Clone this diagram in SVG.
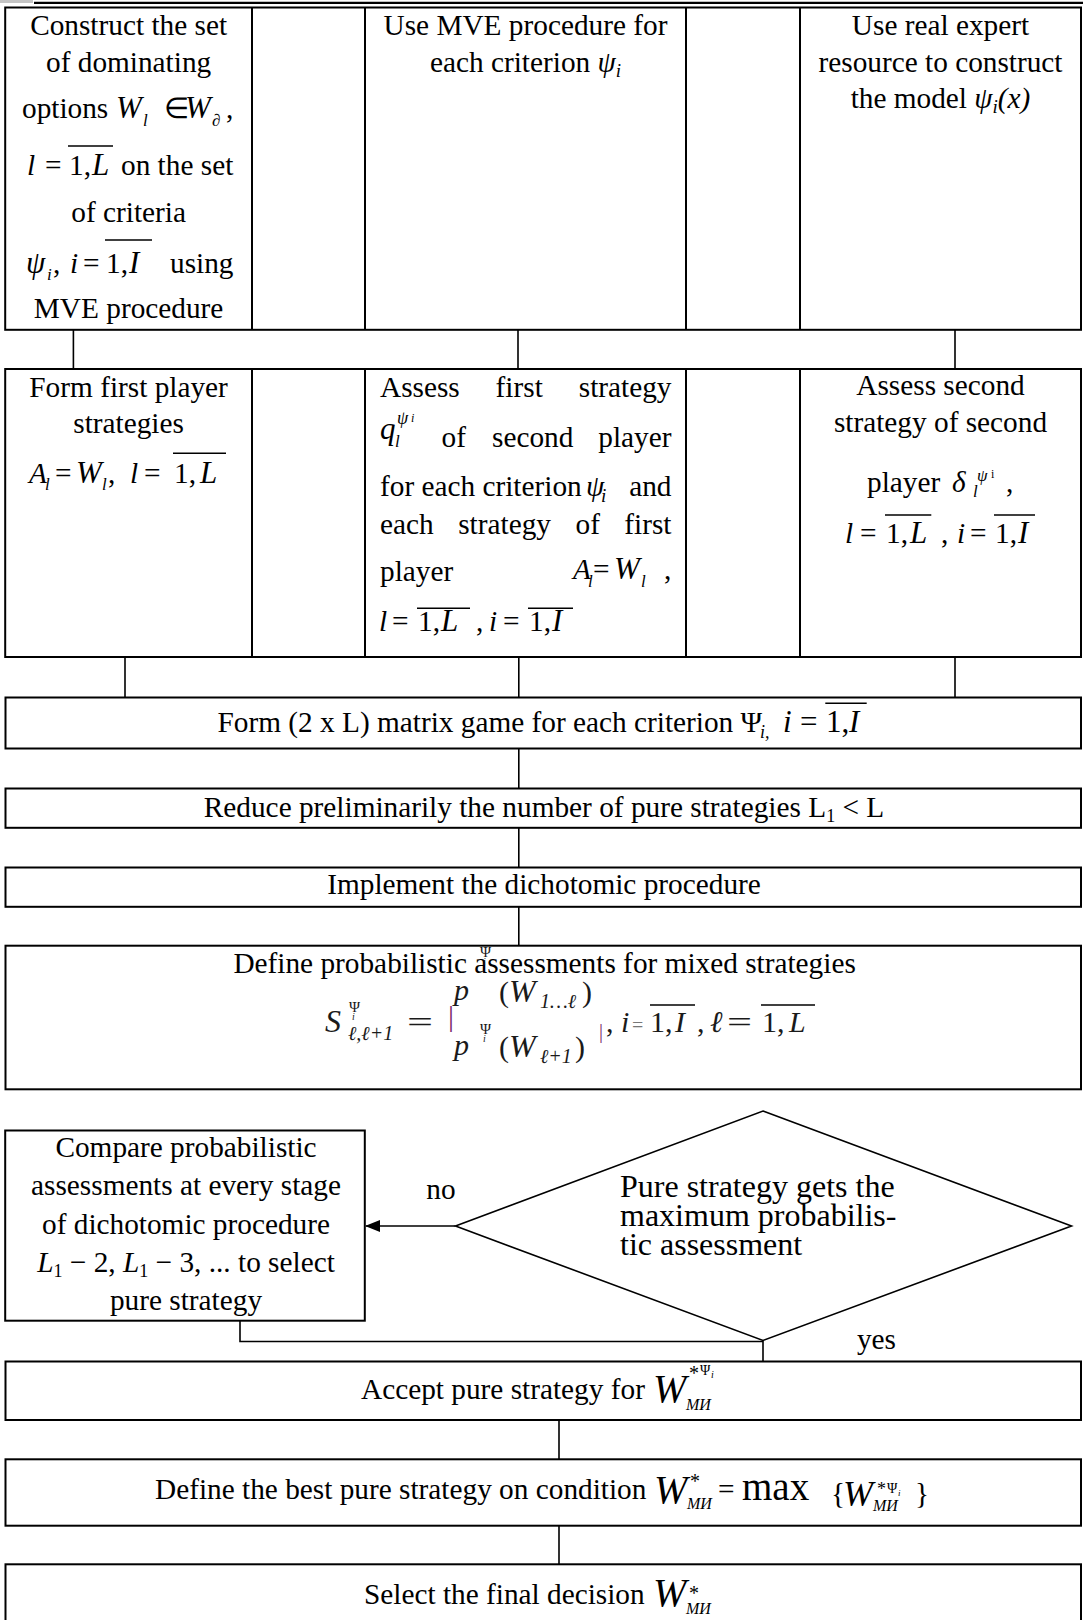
<svg xmlns="http://www.w3.org/2000/svg" width="1083" height="1620" viewBox="0 0 1083 1620">
<style>
svg{font-family:"Liberation Serif","Times New Roman",serif;font-size:29.3px}
text{fill:#000}
.i{font-style:italic}
.c{text-anchor:middle}
.e{text-anchor:end}
.box{fill:#fff;stroke:#000;stroke-width:2}
.ln{fill:none;stroke:#000;stroke-width:2}
.cn{fill:none;stroke:#000;stroke-width:1.6}
.ov{stroke:#000;stroke-width:1.5}
text.fm{fill:#1a1a1a}
text.bar{fill:#7a2a6a}
text.gr{fill:#777}
</style>
<defs>
<marker id="ah" markerUnits="userSpaceOnUse" markerWidth="15" markerHeight="12" refX="14" refY="6" orient="auto">
<path d="M0,0 L15,6 L0,12 z" fill="#000"/>
</marker>
</defs>
<rect width="1083" height="1620" fill="#fff"/>
<rect x="0" y="0" width="33" height="3" fill="#c4c4c4"/>
<line x1="34" y1="2.8" x2="1083" y2="2.8" stroke="#000" stroke-width="2.3"/>

<g id="connectors">
<path class="cn" d="M73.4,330 V369 M518,330 V369 M955,330 V369"/>
<path class="cn" d="M125,657 V697.5 M518.8,657 V697.5 M955,657 V697.5"/>
<path class="cn" d="M518.8,748.5 V788.5 M518.8,827.8 V867.5 M518.8,906.8 V945.7"/>
<path class="cn" d="M455.5,1226 H366" marker-end="url(#ah)"/>
<path class="cn" d="M240,1320.7 V1341.5 H763 M763,1340.5 V1361.5"/>
<path class="cn" d="M559,1420 V1459.3 M559,1525.7 V1564.3"/>
</g>

<g id="table-row1">
<rect class="box" x="5.2" y="7.5" width="1075.8" height="322.3"/>
<path class="ln" d="M252,7.5 V329.8 M365,7.5 V329.8 M686,7.5 V329.8 M800,7.5 V329.8"/>
</g>
<g id="n-construct">
<text class="c" x="128.6" y="35">Construct the set</text>
<text class="c" x="128.6" y="71.7">of dominating</text>
<text x="22" y="118">options</text>
<text class="i" x="116" y="118" font-size="31">W</text>
<text class="i" x="143" y="126" font-size="17">l</text>
<text x="164" y="118">∈</text>
<text class="i" x="185" y="118" font-size="31">W</text>
<text class="i" x="212" y="126" font-size="17">∂</text>
<text x="226" y="118">,</text>
<text class="i" x="27" y="175">l</text>
<text x="45" y="175">=</text>
<text x="69" y="175">1,</text>
<text class="i" x="92" y="175" font-size="31">L</text>
<line class="ov" x1="68" y1="146" x2="113" y2="146"/>
<text x="121" y="175">on the set</text>
<text class="c" x="128.6" y="221.7">of criteria</text>
<text class="i" x="26" y="273" font-size="31">ψ</text>
<text class="i" x="47" y="280" font-size="17">i</text>
<text x="53" y="273">,</text>
<text class="i" x="70" y="273">i</text>
<text x="83" y="273">=</text>
<text x="106" y="273">1,</text>
<text class="i" x="129" y="273" font-size="31">I</text>
<line class="ov" x1="105" y1="240" x2="152" y2="240"/>
<text x="170" y="273">using</text>
<text class="c" x="128.6" y="318.3">MVE procedure</text>
</g>
<g id="n-mve">
<text class="c" x="525.5" y="35">Use MVE procedure for</text>
<text class="c" x="525.5" y="71.7">each criterion <tspan class="i">ψ</tspan><tspan class="i" font-size="19" dy="5">i</tspan></text>
</g>
<g id="n-expert">
<text class="c" x="940.5" y="35">Use real expert</text>
<text class="c" x="940.5" y="71.7">resource to construct</text>
<text class="c" x="940.5" y="108.3">the model <tspan class="i">ψ</tspan><tspan class="i" font-size="19" dy="5">i</tspan><tspan class="i" dy="-5">(x)</tspan></text>
</g>

<g id="table-row2">
<rect class="box" x="5.2" y="369" width="1075.8" height="288"/>
<path class="ln" d="M252,369 V657 M365,369 V657 M686,369 V657 M800,369 V657"/>
</g>
<g id="n-form-first">
<text class="c" x="128.6" y="396.7">Form first player</text>
<text class="c" x="128.6" y="433.3">strategies</text>
<text class="i" x="29" y="483.3">A</text>
<text class="i" x="45" y="490" font-size="17">l</text>
<text x="55" y="483.3">=</text>
<text class="i" x="76" y="483.3" font-size="31">W</text>
<text class="i" x="102" y="490" font-size="17">l</text>
<text x="108" y="483.3">,</text>
<text class="i" x="130" y="483.3">l</text>
<text x="144" y="483.3">=</text>
<text x="174" y="483.3">1,</text>
<text class="i" x="200" y="483.3" font-size="31">L</text>
<line class="ov" x1="173" y1="453.3" x2="226" y2="453.3"/>
</g>
<g id="n-assess-first">
<text x="380" y="396.7">Assess</text>
<text x="495.6" y="396.7">first</text>
<text class="e" x="671.5" y="396.7">strategy</text>
<text class="i" x="380" y="439" font-size="31">q</text>
<text class="i" x="397" y="424" font-size="18">ψ</text>
<text class="i" x="411" y="422" font-size="12">i</text>
<text class="i" x="395" y="447" font-size="17">l</text>
<text x="441.5" y="446.7">of</text>
<text x="492" y="446.7">second</text>
<text class="e" x="671.5" y="446.7">player</text>
<text x="380" y="496">for each criterion</text>
<text class="i" x="586" y="496">ψ</text>
<text class="i" x="601" y="502" font-size="19">i</text>
<text class="e" x="671.5" y="496">and</text>
<text x="380" y="534">each</text>
<text x="458.2" y="534">strategy</text>
<text x="575.5" y="534">of</text>
<text class="e" x="671.5" y="534">first</text>
<text x="380" y="580.5">player</text>
<text class="i" x="573" y="579">A</text>
<text class="i" x="588" y="587" font-size="17">l</text>
<text x="593" y="579">=</text>
<text class="i" x="614" y="579" font-size="31">W</text>
<text class="i" x="641" y="587" font-size="17">l</text>
<text x="664" y="579">,</text>
<text class="i" x="379" y="631">l</text>
<text x="392" y="631">=</text>
<text x="418" y="631">1,</text>
<text class="i" x="441" y="631" font-size="31">L</text>
<line class="ov" x1="417" y1="608.3" x2="470" y2="608.3"/>
<text x="476" y="631">,</text>
<text class="i" x="489" y="631">i</text>
<text x="503" y="631">=</text>
<text x="529" y="631">1,</text>
<text class="i" x="552" y="631" font-size="31">I</text>
<line class="ov" x1="528" y1="608.3" x2="573" y2="608.3"/>
</g>
<g id="n-assess-second">
<text class="c" x="940.5" y="395">Assess second</text>
<text class="c" x="940.5" y="431.7">strategy of second</text>
<text x="867" y="491.7">player</text>
<text class="i" x="952" y="491.7">δ</text>
<text class="i" x="977" y="481" font-size="17">ψ</text>
<text x="991" y="478" font-size="12">i</text>
<text class="i" x="973" y="497" font-size="17">l</text>
<text x="1006" y="491.7">,</text>
<text class="i" x="845" y="543.3">l</text>
<text x="860" y="543.3">=</text>
<text x="886" y="543.3">1,</text>
<text class="i" x="910" y="543.3" font-size="31">L</text>
<line class="ov" x1="885" y1="515" x2="931.3" y2="515"/>
<text x="941" y="543.3">,</text>
<text class="i" x="957" y="543.3">i</text>
<text x="970" y="543.3">=</text>
<text x="995" y="543.3">1,</text>
<text class="i" x="1018" y="543.3" font-size="31">I</text>
<line class="ov" x1="994" y1="515" x2="1035" y2="515"/>
</g>

<g id="n-matrix-game">
<rect class="box" x="5.5" y="697.5" width="1075.5" height="51"/>
<text x="217.5" y="731.7">Form (2 x L) matrix game for each criterion Ψ</text>
<text class="i" x="760" y="738" font-size="18">i,</text>
<text class="i" x="783" y="731.7" font-size="31">i</text>
<text x="800" y="731.7" font-size="31">=</text>
<text x="826" y="731.7" font-size="31">1,</text>
<text class="i" x="849" y="731.7" font-size="31">I</text>
<line class="ov" x1="825.3" y1="703.3" x2="866.7" y2="703.3"/>
</g>
<g id="n-reduce">
<rect class="box" x="5.5" y="788.5" width="1075.5" height="39.3"/>
<text class="c" x="544" y="816.5">Reduce preliminarily the number of pure strategies L<tspan font-size="18" dy="5">1</tspan><tspan dy="-5"> &lt; L</tspan></text>
</g>
<g id="n-dichotomic">
<rect class="box" x="5.5" y="867.5" width="1075.5" height="39.3"/>
<text class="c" x="544" y="894">Implement the dichotomic procedure</text>
</g>
<g id="n-define-mixed">
<rect class="box" x="5.5" y="945.7" width="1075.5" height="143.6"/>
<text class="c" x="544.6" y="973.3">Define probabilistic assessments for mixed strategies</text>
<text class="i fm" x="325" y="1031.5" font-size="32">S</text>
<text class="fm" x="349" y="1012" font-size="15">Ψ</text>
<text class="i fm" x="352" y="1020" font-size="10">i</text>
<text class="i fm" x="348" y="1040" font-size="20">ℓ,ℓ+1</text>
<text class="fm" x="407" y="1031.5" font-size="30" textLength="26" lengthAdjust="spacingAndGlyphs">=</text>
<text class="bar" x="448" y="1026" font-size="30">|</text>
<text class="i fm" x="454" y="1000" font-size="30">p</text>
<text class="fm" x="480" y="957" font-size="15">Ψ</text>
<text class="i fm" x="483" y="965" font-size="10">i</text>
<text class="fm" x="499" y="1002" font-size="30">(</text>
<text class="i fm" x="509" y="1002" font-size="32">W</text>
<text class="i fm" x="540" y="1008" font-size="20">1…ℓ</text>
<text class="fm" x="582" y="1002" font-size="30">)</text>
<text class="i fm" x="454" y="1055" font-size="30">p</text>
<text class="fm" x="480" y="1034" font-size="15">Ψ</text>
<text class="i fm" x="483" y="1042" font-size="10">i</text>
<text class="fm" x="499" y="1057" font-size="30">(</text>
<text class="i fm" x="509" y="1057" font-size="32">W</text>
<text class="i fm" x="540" y="1063" font-size="20">ℓ+1</text>
<text class="fm" x="575" y="1057" font-size="30">)</text>
<text class="bar" x="599" y="1038" font-size="20">|</text>
<text class="fm" x="606" y="1031.5" font-size="30">,</text>
<text class="i fm" x="621" y="1031.5" font-size="30">i</text>
<text class="gr" x="632" y="1031.5" font-size="20">=</text>
<text class="fm" x="650" y="1031.5" font-size="30">1,</text>
<text class="i fm" x="675" y="1031.5" font-size="30">I</text>
<line class="ov" x1="650" y1="1005" x2="695" y2="1005"/>
<text class="fm" x="697" y="1031.5" font-size="30">,</text>
<text class="i fm" x="710" y="1031.5" font-size="30">ℓ</text>
<text class="fm" x="727" y="1031.5" font-size="30" textLength="25" lengthAdjust="spacingAndGlyphs">=</text>
<text class="fm" x="762" y="1031.5" font-size="30">1,</text>
<text class="i fm" x="789" y="1031.5" font-size="30">L</text>
<line class="ov" x1="761" y1="1005" x2="815" y2="1005"/>
</g>

<g id="n-compare">
<rect class="box" x="5.2" y="1130.5" width="359.6" height="190.2"/>
<text class="c" x="186" y="1157">Compare probabilistic</text>
<text class="c" x="186" y="1195">assessments at every stage</text>
<text class="c" x="186" y="1233.5">of dichotomic procedure</text>
<text class="c" x="186" y="1272"><tspan class="i">L</tspan><tspan font-size="18" dy="5">1</tspan><tspan dy="-5"> − 2, </tspan><tspan class="i">L</tspan><tspan font-size="18" dy="5">1</tspan><tspan dy="-5"> − 3, ... to select</tspan></text>
<text class="c" x="186" y="1310">pure strategy</text>
</g>
<g id="n-decision">
<polygon points="763,1111 1071.5,1226 763,1340.5 455.5,1226" fill="none" stroke="#000" stroke-width="1.6"/>
<text x="620" y="1197" font-size="32">Pure strategy gets the</text>
<text x="620" y="1226" font-size="32">maximum probabilis-</text>
<text x="620" y="1255" font-size="32">tic assessment</text>
</g>
<g id="labels">
<text class="c" x="441" y="1198.5">no</text>
<text class="c" x="876.5" y="1349">yes</text>
</g>

<g id="n-accept">
<rect class="box" x="5.5" y="1361.5" width="1075.5" height="58.5"/>
<text x="361" y="1398.5">Accept pure strategy for</text>
<text class="i" x="653" y="1402" font-size="40">W</text>
<text x="689" y="1380" font-size="20">*</text>
<text x="700" y="1375" font-size="14">Ψ</text>
<text class="i" x="711" y="1378" font-size="10">i</text>
<text class="i" x="686" y="1410" font-size="16">МИ</text>
</g>
<g id="n-best">
<rect class="box" x="5.5" y="1459.3" width="1075.5" height="66.4"/>
<text x="155" y="1498.5">Define the best pure strategy on condition</text>
<text class="i" x="654" y="1503" font-size="40">W</text>
<text x="690" y="1488" font-size="20">*</text>
<text class="i" x="687" y="1508.5" font-size="16">МИ</text>
<text x="718" y="1498.5">=</text>
<text x="742" y="1500" font-size="39">max</text>
<text x="831" y="1503">{</text>
<text class="i" x="843" y="1506" font-size="36">W</text>
<text x="877" y="1495" font-size="18">*</text>
<text x="887" y="1493" font-size="14">Ψ</text>
<text class="i" x="898" y="1496" font-size="9">i</text>
<text class="i" x="873" y="1511" font-size="16">МИ</text>
<text x="915" y="1503">}</text>
</g>
<g id="n-select">
<rect class="box" x="5.5" y="1564.3" width="1075.5" height="60"/>
<text x="364" y="1603.5">Select the final decision</text>
<text class="i" x="653" y="1606" font-size="40">W</text>
<text x="689" y="1600" font-size="20">*</text>
<text class="i" x="686" y="1613.5" font-size="16">МИ</text>
</g>
</svg>
